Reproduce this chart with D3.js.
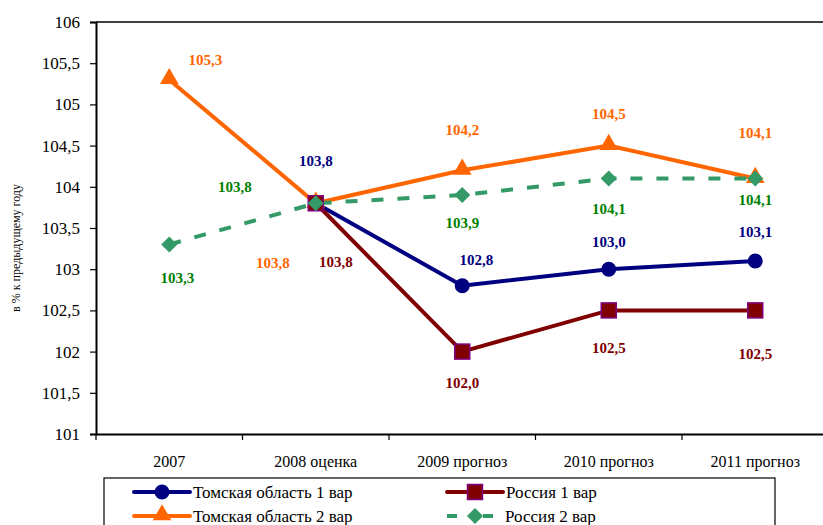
<!DOCTYPE html>
<html><head><meta charset="utf-8">
<script src="https://cdn.jsdelivr.net/npm/d3@7"></script>
<style>body{margin:0;background:#fff}svg{display:block}</style>
</head><body><svg id="c" width="823" height="525" font-family="Liberation Serif"></svg>
<script>
const categories = ["2007", "2008 оценка", "2009 прогноз", "2010 прогноз", "2011 прогноз"];
const tomsk1 = [null, 103.8, 102.8, 103.0, 103.1];
const russia1 = [null, 103.8, 102.0, 102.5, 102.5];
const tomsk2 = [105.3, 103.8, 104.2, 104.5, 104.1];
const russia2 = [103.3, 103.8, 103.9, 104.1, 104.1];
const yTicks = [101, 101.5, 102, 102.5, 103, 103.5, 104, 104.5, 105, 105.5, 106];
const seriesNames = ["Томская область 1 вар", "Россия 1 вар", "Томская область 2 вар", "Россия 2 вар"];

// label offsets (dx, dy) relative to point
const offTomsk1 = [null, [0, -42], [14, -26], [0, -27], [0, -29]];
const offRussia1 = [null, [20, 59], [0, 31], [0, 38], [0, 44]];
const offTomsk2 = [[36, -20], [-43, 60], [0, -40], [0, -32], [0, -46]];
const offRussia2 = [[8, 34], [-81, -16], [0, 28], [0, 30], [0, 21]];

const svg = d3.select("#c");
const pLeft = 96, pTop = 22, pBottom = 434, bandW = 146.5;
const x = d3.scaleBand().domain(categories).range([pLeft, pLeft + bandW * 5]);
const y = d3.scaleLinear().domain([101, 106]).range([pBottom, pTop]);
const cx = c => x(c) + x.bandwidth() / 2;
const fmt = v => v.toFixed(1).replace(".", ",");
const serif = "'Liberation Serif', 'Times New Roman', serif";
const fontIt = sel => sel.style("font-family", serif, "important");

// top frame line
svg.append("line").attr("x1", pLeft).attr("x2", 823).attr("y1", pTop).attr("y2", pTop).attr("stroke", "#000").attr("stroke-width", 1.5);

// y axis
const ya = svg.append("g").attr("transform", `translate(${pLeft},0)`)
  .call(d3.axisLeft(y).tickValues(yTicks).tickSize(6).tickPadding(10).tickFormat(d => String(d).replace(".", ",")));
ya.attr("font-family", "Liberation Serif").attr("font-size", 17);
ya.select(".domain").attr("stroke", "#000").attr("stroke-width", 2);
ya.selectAll(".tick line").attr("stroke", "#000").attr("stroke-width", 1.2);
ya.selectAll("text").attr("font-size", 17).attr("fill", "#000").call(fontIt);

// x axis
const xa = svg.append("g").attr("transform", `translate(0,${pBottom})`)
  .call(d3.axisBottom(x).tickSize(0).tickPadding(22));
xa.attr("font-family", "Liberation Serif").attr("font-size", 16);
xa.select(".domain").attr("stroke", "#000").attr("stroke-width", 2);
xa.selectAll("text").attr("font-size", 16).attr("fill", "#000").call(fontIt);
categories.forEach((c, i) => {
  const xx = x(c);
  svg.append("line").attr("x1", xx).attr("x2", xx).attr("y1", pBottom).attr("y2", pBottom + 6).attr("stroke", "#000").attr("stroke-width", 1.2);
});

// y title
svg.append("text").attr("transform", `translate(20,${(pTop + pBottom) / 2 + 20}) rotate(-90)`)
  .attr("text-anchor", "middle").attr("font-size", 12).call(fontIt).text("в % к предыдущему году");

const line = d3.line().defined(d => d.v != null).x(d => cx(d.c)).y(d => y(d.v));
function pts(arr) { return arr.map((v, i) => ({ c: categories[i], v })); }

// lines
svg.append("path").datum(pts(tomsk2)).attr("d", line).attr("fill", "none").attr("stroke", "#FF6600").attr("stroke-width", 4);
svg.append("path").datum(pts(tomsk1)).attr("d", line).attr("fill", "none").attr("stroke", "#000080").attr("stroke-width", 4);
svg.append("path").datum(pts(russia1)).attr("d", line).attr("fill", "none").attr("stroke", "#800000").attr("stroke-width", 4);
svg.append("path").datum(pts(russia2)).attr("d", line).attr("fill", "none").attr("stroke", "#339966").attr("stroke-width", 4).attr("stroke-dasharray", "12,14");

// markers
const tri = d3.symbol().type(d3.symbolTriangle).size(150);
const dia = d3.symbol().type(d3.symbolSquare).size(130);
pts(tomsk2).filter(d => d.v != null).forEach(d => svg.append("path").attr("d", tri).attr("transform", `translate(${cx(d.c)},${y(d.v) - 1})`).attr("fill", "#FF6600"));
pts(tomsk1).filter(d => d.v != null).forEach(d => svg.append("circle").attr("cx", cx(d.c)).attr("cy", y(d.v)).attr("r", 7.5).attr("fill", "#000080"));
pts(russia1).filter(d => d.v != null).forEach(d => svg.append("rect").attr("x", cx(d.c) - 7.5).attr("y", y(d.v) - 7.5).attr("width", 15).attr("height", 15).attr("fill", "#800000").attr("stroke", "#800080").attr("stroke-width", 1.5));
pts(russia2).filter(d => d.v != null).forEach(d => svg.append("path").attr("d", dia).attr("transform", `translate(${cx(d.c)},${y(d.v)}) rotate(45)`).attr("fill", "#339966"));

// labels
function labels(arr, offs, color) {
  arr.forEach((v, i) => {
    if (v == null) return;
    svg.append("text").attr("x", cx(categories[i]) + offs[i][0]).attr("y", y(v) + offs[i][1])
      .attr("text-anchor", "middle").attr("dominant-baseline", "central")
      .attr("font-weight", "bold").attr("font-size", 15).call(fontIt)
      .attr("fill", color).text(fmt(v));
  });
}
labels(tomsk2, offTomsk2, "#FF6600");
labels(tomsk1, offTomsk1, "#000080");
labels(russia1, offRussia1, "#800000");
labels(russia2, offRussia2, "#008000");

// legend
const lg = svg.append("g");
lg.append("rect").attr("x", 104).attr("y", 478).attr("width", 671).attr("height", 60).attr("fill", "#fff").attr("stroke", "#000").attr("stroke-width", 1.2);
const legendItems = [
  { name: seriesNames[0], x: 134, y: 492, color: "#000080", m: "circle" },
  { name: seriesNames[1], x: 447, y: 492, color: "#800000", m: "square" },
  { name: seriesNames[2], x: 134, y: 516, color: "#FF6600", m: "tri" },
  { name: seriesNames[3], x: 447, y: 516, color: "#339966", m: "dia" }
];
legendItems.forEach(it => {
  const mx = it.x + 28;
  if (it.m === "dia") {
    lg.append("line").attr("x1", it.x).attr("x2", it.x + 10).attr("y1", it.y).attr("y2", it.y).attr("stroke", it.color).attr("stroke-width", 4);
    lg.append("line").attr("x1", it.x + 36).attr("x2", it.x + 46).attr("y1", it.y).attr("y2", it.y).attr("stroke", it.color).attr("stroke-width", 4);
    lg.append("path").attr("d", dia).attr("transform", `translate(${mx},${it.y}) rotate(45)`).attr("fill", it.color);
  } else {
    lg.append("line").attr("x1", it.x).attr("x2", it.x + 56).attr("y1", it.y).attr("y2", it.y).attr("stroke", it.color).attr("stroke-width", 4).attr("stroke-linecap", "round");
    if (it.m === "circle") lg.append("circle").attr("cx", mx).attr("cy", it.y).attr("r", 7.5).attr("fill", it.color);
    if (it.m === "square") lg.append("rect").attr("x", mx - 7.5).attr("y", it.y - 7.5).attr("width", 15).attr("height", 15).attr("fill", it.color).attr("stroke", "#800080").attr("stroke-width", 1.5);
    if (it.m === "tri") lg.append("path").attr("d", tri).attr("transform", `translate(${mx},${it.y - 1})`).attr("fill", it.color);
  }
  lg.append("text").attr("x", it.m === "dia" ? it.x + 58 : it.x + 59).attr("y", it.y).attr("dominant-baseline", "central")
    .attr("font-size", 17).call(fontIt).attr("fill", "#000").text(it.name);
});
</script></body></html>
